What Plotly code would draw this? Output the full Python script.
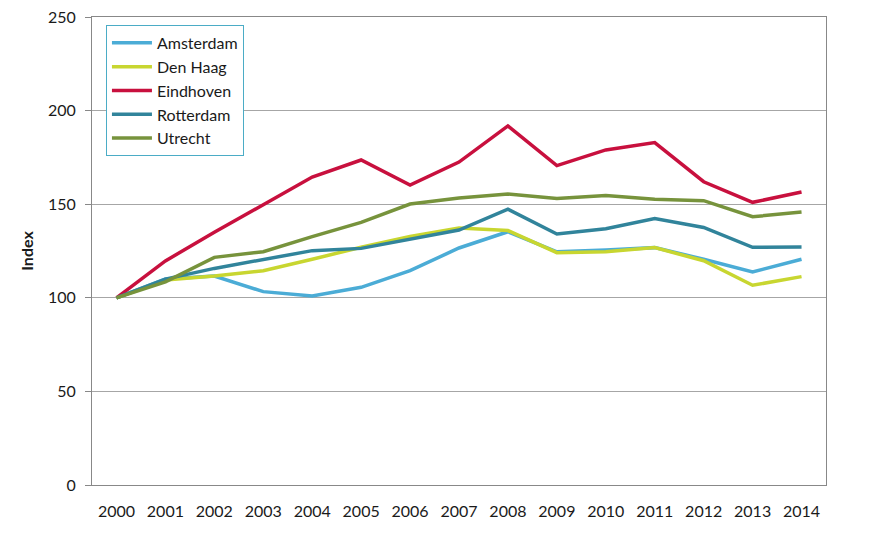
import plotly.graph_objects as go

years = [str(y) for y in range(2000, 2015)]
y_ticks = [0, 50, 100, 150, 200, 250]
amsterdam = [100, 110, 111.6, 103.3, 101, 105.6, 114.5, 126.6, 135.3, 124.6, 125.5, 126.8, 120.6, 113.8, 120.6]
den_haag = [100, 109.5, 111.6, 114.5, 120.6, 127, 132.7, 137.3, 135.9, 124.1, 124.6, 126.8, 119.8, 106.7, 111.3]
eindhoven = [100, 119.7, 135, 150, 164.5, 173.6, 160.2, 172.5, 191.8, 170.6, 179, 182.9, 162, 151, 156.5]
rotterdam = [100, 110, 115.7, 120.6, 125.2, 126.4, 131.2, 136.2, 147.3, 134.1, 136.9, 142.3, 137.6, 127, 127.1]
utrecht = [100, 108.5, 121.6, 124.6, 132.7, 140.3, 150.1, 153.3, 155.4, 153, 154.7, 152.6, 151.9, 143.3, 145.8]

series = [
    ("Amsterdam", amsterdam, "#4bacd6"),
    ("Den Haag", den_haag, "#c8d630"),
    ("Eindhoven", eindhoven, "#c8103e"),
    ("Rotterdam", rotterdam, "#31849b"),
    ("Utrecht", utrecht, "#77933c"),
]

fig = go.Figure()
for name, vals, col in series:
    fig.add_trace(go.Scatter(x=years, y=vals, name=name, mode="lines",
                             line=dict(color=col, width=3.5)))

fig.update_layout(
    width=872, height=539,
    margin=dict(l=92, r=46, t=17, b=54, autoexpand=False),
    paper_bgcolor="white", plot_bgcolor="white",
    font=dict(family="Lato, Noto Sans, sans-serif", size=16, color="#1a1a1a"),
    showlegend=True,
    legend=dict(x=0.019, y=0.983, xanchor="left", yanchor="top",
                bordercolor="#4bacc6", borderwidth=1, bgcolor="white",
                font=dict(size=16), tracegroupgap=0, itemwidth=40),
    xaxis=dict(type="category", range=[-0.5, 14.5], showgrid=False,
               showline=True, linecolor="#888888", linewidth=1, mirror=True,
               ticks="", ticklabelstandoff=12, automargin=False),
    yaxis=dict(range=[0, 250], tickmode="array", tickvals=y_ticks,
               showgrid=True, gridcolor="#a6a6a6",
               gridwidth=1, showline=True, linecolor="#888888", linewidth=1,
               mirror=True,
               ticks="outside", ticklen=6, tickcolor="#888888", zeroline=False,
               title=dict(text="<b>Index</b>", font=dict(size=16), standoff=10),
               ticklabelstandoff=6, automargin=False),
)

fig.write_html("out.html",
               config={"displayModeBar": False},
               post_script="document.body.style.margin='0';document.body.style.overflow='hidden';")
